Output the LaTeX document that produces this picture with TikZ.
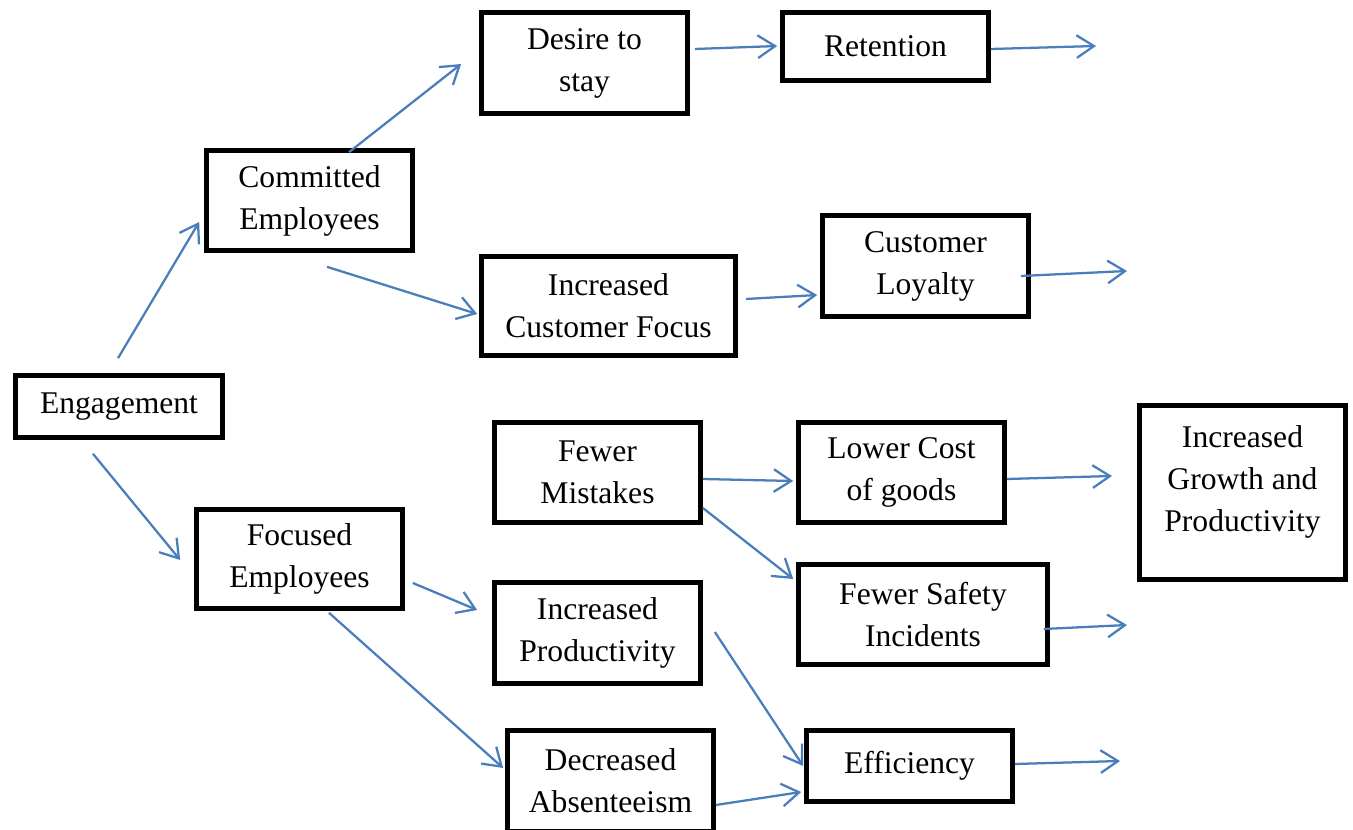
\documentclass[tikz,border=0pt]{standalone}
\usepackage{fontspec}
\setmainfont{Liberation Serif}
\usetikzlibrary{arrows.meta}
\definecolor{linkblue}{HTML}{4A7EBB}
\begin{document}
\begin{tikzpicture}[x=0.75pt,y=-0.75pt,
  box/.style={draw=black,line width=3.5pt,fill=white,align=center,
    inner sep=2pt,font=\fontsize{23.7}{31.5}\selectfont},
  sz/.style n args={2}{minimum width={(#1-1)*0.75pt},minimum height={(#2-1)*0.75pt}},
  link/.style={draw=linkblue,line width=1.7pt,
    -{Straight Barb[length=13pt,width=17pt,line width=1.7pt]}}]
\useasboundingbox (0,0) rectangle (1353,830);
\begin{scope}
\clip (0,0) rectangle (1353,830);
% boxes: centre and size of the drawn outline, in pixels
\node[box,sz={207}{102}] (des)   at (584.5,63)   {Desire to\\stay};
\node[box,sz={207}{69}]  (ret)   at (885.5,46.5) {Retention};
\node[box,sz={207}{101}] (cemp)  at (309.5,200.5){Committed\\Employees};
\node[box,sz={255}{100}] (icf)   at (608.5,306)  {Increased\\Customer Focus};
\node[box,sz={207}{102}] (cloy)  at (925.5,266)  {Customer\\Loyalty};
\node[box,sz={208}{63}]  (eng)   at (119,406.5)  {Engagement};
\node[box,sz={207}{101}] (fmis)  at (597.5,472.5){Fewer\\Mistakes};
\node[box,sz={207}{101}] (lcost) at (901.5,472.5){Lower Cost\\of goods};
\node[box,sz={207}{175}] (grow)  at (1242.5,492.5)
  {Increased\\Growth and\\Productivity\rule[-21pt]{0pt}{0pt}};
\node[box,sz={207}{100}] (femp)  at (299.5,559)  {Focused\\Employees};
\node[box,sz={250}{101}] (fsaf)  at (923,614.5)  {Fewer Safety\\Incidents};
\node[box,sz={207}{102}] (iprod) at (597.5,633)  {Increased\\Productivity};
\node[box,sz={207}{102}] (dabs)  at (610.5,781)  {Decreased\\Absenteeism};
\node[box,sz={207}{72}]  (eff)   at (909.5,766)  {Efficiency};
\end{scope}
% open ends of the outgoing arrows
\coordinate (retout)  at (1096,46);
\coordinate (cloyout) at (1127,271);
\coordinate (lcout)   at (1112,476);
\coordinate (fsout)   at (1127,625);
\coordinate (effout)  at (1120,761);
% connectors
\draw[link] ([shift={(-1,-15)}]eng.north)   -- ([shift={(-5,21.5)}]cemp.west);
\draw[link] ([shift={(-26,14)}]eng.south)   -- ([shift={(-14,1)}]femp.west);
\draw[link] ([shift={(39.5,4)}]cemp.north)  -- ([shift={(-18,1)}]des.west);
\draw[link] ([shift={(17.5,14)}]cemp.south) -- ([shift={(-2,8)}]icf.west);
\draw[link] ([shift={(5,-14)}]des.east)     -- ([shift={(-3,-0.5)}]ret.west);
\draw[link] ([shift={(0,2.5)}]ret.east)     -- (retout);
\draw[link] ([shift={(8,-7)}]icf.east)      -- ([shift={(-3,29)}]cloy.west);
\draw[link] ([shift={(-10,10)}]cloy.east)   -- (cloyout);
\draw[link] ([shift={(0,6.5)}]fmis.east)    -- ([shift={(-3,8.5)}]lcost.west);
\draw[link] ([shift={(0,35.5)}]fmis.east)   -- ([shift={(-3,-35.5)}]fsaf.west);
\draw[link] ([shift={(0,6.5)}]lcost.east)   -- (lcout);
\draw[link] ([shift={(-6,14.5)}]fsaf.east)  -- (fsout);
\draw[link] ([shift={(8,24)}]femp.east)     -- ([shift={(-15,-23)}]iprod.west);
\draw[link] ([shift={(29.5,2)}]femp.south)  -- ([shift={(-2,-13)}]dabs.west);
\draw[link] ([shift={(12,-1)}]iprod.east)   -- ([shift={(-1,0)}]eff.west);
\draw[link] ([shift={(0,24)}]dabs.east)     -- ([shift={(-3,26)}]eff.west);
\draw[link] ([shift={(0,-2)}]eff.east)      -- (effout);
\end{tikzpicture}
\end{document}
